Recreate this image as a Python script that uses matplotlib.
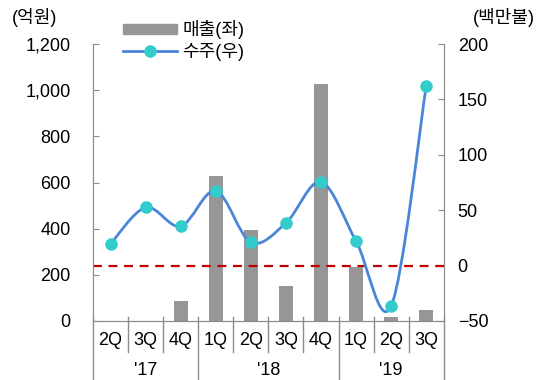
import matplotlib
matplotlib.use('Agg')
import matplotlib.pyplot as plt
import numpy as np
from matplotlib.path import Path
from matplotlib.patches import PathPatch
from matplotlib.lines import Line2D
from matplotlib.patches import Patch
import matplotlib.transforms as mtransforms

plt.rcParams['font.family'] = ['Liberation Sans', 'Noto Sans CJK KR', 'DejaVu Sans']

# data
quarters = ['2Q', '3Q', '4Q', '1Q', '2Q', '3Q', '4Q', '1Q', '2Q', '3Q']
years = ["'17", "'18", "'19"]
year_sizes = [3, 4, 3]
sales = [0, 0, 88, 628, 393, 152, 1027, 234, 19, 48]        # 억원 (left)
orders = [19.5, 52.5, 35.5, 67.5, 21, 38.5, 75.5, 22, -36.5, 162.5]  # 백만불 (right)

gray = '#969696'
axcol = '#8c8c8c'

fig = plt.figure(figsize=(5.52, 3.80), dpi=100)
ax = fig.add_axes([0.1685, 0.1553, 0.6355, 0.7287])
ax2 = ax.twinx()

x = np.arange(len(quarters))
ax.bar(x, sales, width=0.41, color=gray, zorder=2)
ax.set_xlim(-0.5, len(quarters) - 0.5)
ax.set_ylim(0, 1200)
ax.set_yticks(range(0, 1201, 200))
ax.set_yticklabels([f'{v:,}' for v in range(0, 1201, 200)])

ax2.set_ylim(-50, 200)
ax2.set_yticks(range(-50, 201, 50))

# smoothed line (Catmull-Rom style Bezier, like Excel smoothing)
ys = np.array(orders, dtype=float)
xs = x.astype(float)
verts = [(xs[0], ys[0])]
codes = [Path.MOVETO]
n = len(xs)
for i in range(n - 1):
    p0 = (xs[max(i - 1, 0)], ys[max(i - 1, 0)])
    p1 = (xs[i], ys[i])
    p2 = (xs[i + 1], ys[i + 1])
    p3 = (xs[min(i + 2, n - 1)], ys[min(i + 2, n - 1)])
    c1 = (p1[0] + (p2[0] - p0[0]) / 6, p1[1] + (p2[1] - p0[1]) / 6)
    c2 = (p2[0] - (p3[0] - p1[0]) / 6, p2[1] - (p3[1] - p1[1]) / 6)
    verts += [c1, c2, p2]
    codes += [Path.CURVE4] * 3
ax2.add_patch(PathPatch(Path(verts, codes), fill=False, edgecolor='#4a86d8', lw=2, zorder=3))
ax2.plot(xs, ys, ls='none', marker='o', ms=8, color='#33cccc', zorder=4)
ax2.axhline(0, color='#c00000', ls=(0, (4, 3)), lw=1.6, zorder=2)

for a in (ax, ax2):
    a.spines['top'].set_visible(False)
    for s in ('left', 'right', 'bottom'):
        a.spines[s].set_color(axcol)
    a.tick_params(axis='y', direction='in', length=4, color=axcol, labelsize=13)
ax.tick_params(axis='y', pad=16)
ax2.tick_params(axis='y', pad=10)
ax.tick_params(axis='x', length=0, labelsize=13, pad=8)
ax.set_xticks(x)
ax.set_xticklabels(quarters)

# category separators below the axis
trans = mtransforms.blended_transform_factory(ax.transData, ax.transAxes)
bounds = np.arange(len(quarters) + 1) - 0.5
group_edges = np.cumsum([0] + year_sizes) - 0.5
for b in bounds:
    bottom = -0.215 if b in group_edges else -0.113
    ax.plot([b, b], [0.015, bottom], transform=trans, color=axcol, lw=1, clip_on=False)
start = 0
for yr, sz in zip(years, year_sizes):
    ax.text(start + (sz - 1) / 2, -0.18, yr, transform=trans, ha='center', va='center', fontsize=13)
    start += sz

fig.text(0.063, 0.953, '(억원)', ha='center', va='center', fontsize=13)
fig.text(0.912, 0.953, '(백만불)', ha='center', va='center', fontsize=13)

handles = [Patch(color=gray), Line2D([0], [0], color='#4a86d8', lw=2, marker='o', ms=8,
                                      markerfacecolor='#33cccc', markeredgecolor='#33cccc')]
fig.legend(handles, ['매출(좌)', '수주(우)'], loc='upper left', bbox_to_anchor=(0.2, 0.98),
           frameon=False, fontsize=13, handlelength=3.0, handleheight=0.5, labelspacing=0.2,
           handletextpad=0.3, borderpad=0.2)

fig.savefig('out.png', dpi=100)
